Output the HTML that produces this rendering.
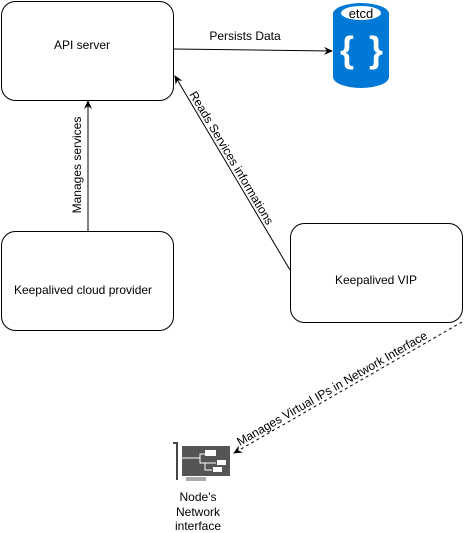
<!DOCTYPE html>
<html><head><style>body{margin:0;background:#fff}svg{display:block}text{font-family:"Liberation Sans",sans-serif;font-size:12px;fill:#000}</style></head><body>
<svg width="468" height="533" viewBox="0 0 468 533">
<defs><marker id="a" markerWidth="10" markerHeight="10" refX="8" refY="5" orient="auto" markerUnits="userSpaceOnUse"><path d="M0,1 L9,5 L0,9 L3,5 Z" fill="#000"/></marker></defs>
<rect x="1.5" y="1.5" width="172" height="99" rx="14" fill="#fff" stroke="#000"/>
<text x="82" y="49" text-anchor="middle">API server</text>
<rect x="1.5" y="231.5" width="172" height="99" rx="14" fill="#fff" stroke="#000"/>
<text x="83" y="294" text-anchor="middle">Keepalived cloud provider</text>
<rect x="290.5" y="223.5" width="172" height="99" rx="14" fill="#fff" stroke="#000"/>
<text x="376" y="284" text-anchor="middle">Keepalived VIP</text>
<!-- etcd -->
<path d="M333,14 A28,11 0 0 1 389,14 L389,77 A28,11 0 0 1 333,77 Z" fill="#0079d6"/>
<ellipse cx="361" cy="13" rx="20" ry="7" fill="#fff"/>
<text x="361" y="18" text-anchor="middle" style="font-size:13px">etcd</text>
<text x="347" y="62" text-anchor="middle" style="font-size:36px;font-weight:bold;fill:#fff">{</text>
<text x="376" y="62" text-anchor="middle" style="font-size:36px;font-weight:bold;fill:#fff">}</text>
<!-- arrows -->
<line x1="174" y1="49" x2="332" y2="51" stroke="#000" marker-end="url(#a)"/>
<text x="245" y="40" text-anchor="middle">Persists Data</text>
<line x1="88" y1="231" x2="88" y2="101" stroke="#000" marker-end="url(#a)"/>
<text transform="translate(81,165) rotate(-90)" text-anchor="middle">Manages services</text>
<line x1="290" y1="270" x2="175" y2="76" stroke="#000" marker-end="url(#a)"/>
<text transform="translate(228,160) rotate(59.3)" text-anchor="middle">Reads Services informations</text>
<line x1="462" y1="322" x2="234" y2="453" stroke="#000" stroke-dasharray="3,3" marker-end="url(#a)"/>
<text transform="translate(334,392) rotate(-29.9)" text-anchor="middle">Manages Virtual IPs in Network Interface</text>
<!-- NIC -->
<path d="M173,443 L177,443 L177,480" fill="none" stroke="#444" stroke-width="2"/>
<rect x="182" y="446" width="48" height="30" fill="#555"/>
<path d="M182,458 L200,458 L200,454 L206,454 M200,458 L200,463 L216,463 M205,463 L205,470 L212,470" stroke="#fff" fill="none"/>
<rect x="205" y="450" width="11" height="6" fill="#fff"/>
<rect x="217" y="460" width="9" height="5" fill="#fff"/>
<rect x="213" y="467" width="9" height="5" fill="#fff"/>
<path d="M187,477 v4 M189,477 v4 M191,477 v4 M193,477 v4 M195,477 v4 M197,477 v4 M199,477 v4 M201,477 v4 M203,477 v4 M205,477 v4" stroke="#555"/>
<text x="198" y="501" text-anchor="middle">Node's</text>
<text x="198" y="516" text-anchor="middle">Network</text>
<text x="198" y="530" text-anchor="middle">interface</text>
</svg>
</body></html>
